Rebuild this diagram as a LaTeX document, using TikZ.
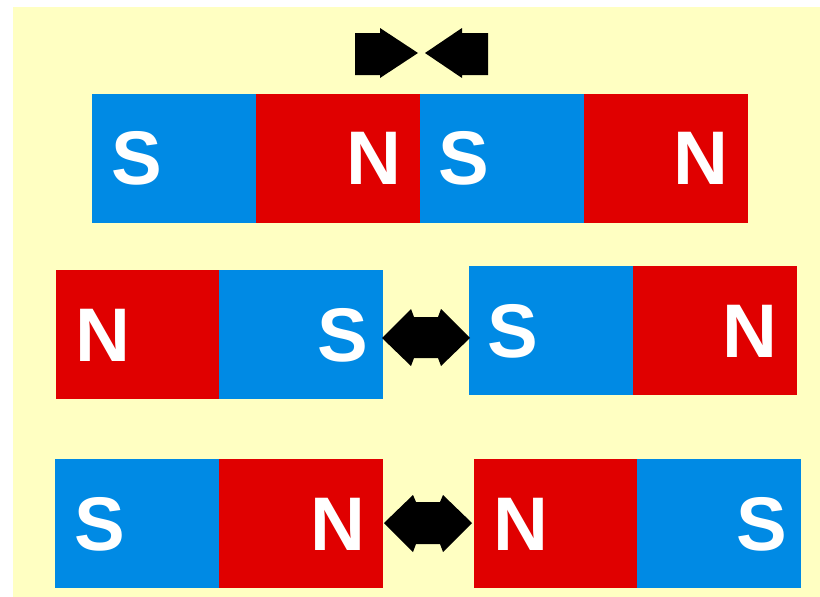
\documentclass[tikz,border=0pt]{standalone}
\usepackage{fontspec}
\setsansfont{Liberation Sans}
\definecolor{bgyellow}{RGB}{255,255,194}
\definecolor{magblue}{RGB}{0,138,228}
\definecolor{magred}{RGB}{224,0,0}
\tikzset{
  half/.style={rectangle, inner sep=0pt, outer sep=0pt, minimum width=164pt, minimum height=129pt, anchor=north west},
  sp/.style={half, fill=magblue},
  np/.style={half, fill=magred},
  lab/.style={text=white, inner sep=0pt, font=\sffamily\bfseries\fontsize{76}{76}\selectfont},
  arr/.style={fill=black}
}
\begin{document}
\begin{tikzpicture}[x=1pt,y=-1pt]
\useasboundingbox (0,0) rectangle (820,597);
\fill[bgyellow] (13,7) rectangle (820,597);
% row 1
\node[sp] (r1a) at (92,94) {};
\node[np] (r1b) at (256,94) {};
\node[sp] (r1c) at (420,94) {};
\node[np] (r1d) at (584,94) {};
\node[lab] (l1a) at (137,158) {S};
\node[lab] (l1b) at (374,158) {N};
\node[lab] (l1c) at (464,158) {S};
\node[lab] (l1d) at (701,158) {N};
% row 2
\node[np] (r2a) at (56,270) {};
\node[sp] (r2b) at (219,270) {};
\node[sp] (r2c) at (469,266) {};
\node[np] (r2d) at (633,266) {};
\node[lab] (l2a) at (103,335) {N};
\node[lab] (l2b) at (343,335) {S};
\node[lab] (l2c) at (513,331) {S};
\node[lab] (l2d) at (750,331) {N};
% row 3
\node[sp] (r3a) at (55,459) {};
\node[np] (r3b) at (219,459) {};
\node[np] (r3c) at (474,459) {};
\node[sp] (r3d) at (637,459) {};
\node[lab] (l3a) at (100,524) {S};
\node[lab] (l3b) at (338,524) {N};
\node[lab] (l3c) at (521,524) {N};
\node[lab] (l3d) at (762,524) {S};
% top arrows (attraction)
\fill[arr] (355,33) -- (380,33) -- (380,28) -- (418,53) -- (380,78) -- (380,75) -- (355,75) -- cycle;
\fill[arr] (488,33) -- (462,33) -- (462,28) -- (425,53) -- (462,78) -- (462,75) -- (488,75) -- cycle;
% middle double arrow (repulsion)
\fill[arr] (382,338) -- (411,309) -- (414,317) -- (438,317) -- (441,309) -- (470,338)
  -- (441,366) -- (438,358) -- (414,358) -- (411,366) -- cycle;
% bottom double arrow (repulsion)
\fill[arr] (384,523) -- (413,495) -- (416,502) -- (440,502) -- (443,495) -- (472,523)
  -- (443,552) -- (440,544) -- (416,544) -- (413,552) -- cycle;
\end{tikzpicture}
\end{document}
